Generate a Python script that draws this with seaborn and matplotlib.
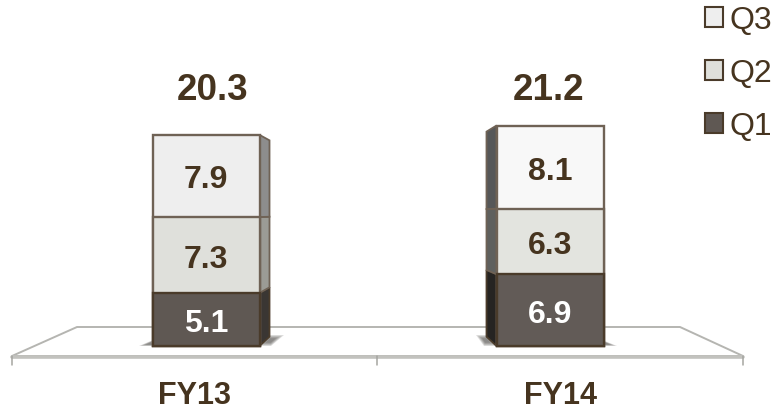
import matplotlib.pyplot as plt
import numpy as np
import pandas as pd
import seaborn as sns
from matplotlib.patches import Patch, Polygon

sns.set_theme(style="white")
plt.rcParams["font.family"] = ["Liberation Sans", "DejaVu Sans"]

years = ["FY13", "FY14"]
q1 = [5.1, 6.9]
q2 = [7.3, 6.3]
q3 = [7.9, 8.1]
totals = [20.3, 21.2]

# pixel layout of the picture
W, H = 774, 410
X0, X_STEP = 206, 344  # first bar centre, bar spacing
Y0, Y_UNIT = 347, 10.4  # baseline, pixels per value unit
BAR_W = 107 / X_STEP
DEPTH = 10 / X_STEP
VANISH = 12.8  # side faces converge to this value
SHRINK = 0.93

TEXT = "#46341f"
EDGE = "#6f6255"
EDGE_DARK = "#4a3b2a"


def px(x):
    return (x - X0) / X_STEP


def py(y):
    return (Y0 - y) / Y_UNIT


fig = plt.figure(figsize=(W / 100, H / 100), dpi=100)
ax = fig.add_axes([0, 0, 1, 1])

# floor
floor = [(12, 357), (77, 328), (680, 328), (743, 357)]
ax.add_patch(Polygon([(px(a), py(b)) for a, b in floor], closed=True, facecolor="white",
                     edgecolor="#b5b5b1", lw=1.4, zorder=0))
ax.plot([px(12), px(743)], [py(357.5), py(357.5)], color="#c2c2be", lw=2.6, zorder=1)
for t in [12, 377, 743]:
    ax.plot([px(t), px(t)], [py(357), py(366)], color="#a5a5a1", lw=1.1, zorder=1)

# shadows on the floor
shadows = [
    [(139, 347), (153, 341), (156, 347)],
    [(269, 336), (284, 336), (271, 347), (258, 347)],
    [(476, 336), (487, 336), (497, 347), (484, 347)],
    [(600, 340), (617, 347), (600, 347)],
]
for s in shadows:
    pts = np.array(s, dtype=float)
    c = pts.mean(axis=0)
    for k in [1.0, 0.85, 0.7, 0.55, 0.4]:
        p = c + (pts - c) * k
        ax.add_patch(Polygon(np.c_[px(p[:, 0]), py(p[:, 1])], closed=True, facecolor="#3c3835",
                             alpha=0.16, lw=0, zorder=1))

# stacked bars, tallest cumulative layer first
df = pd.DataFrame({"year": years, "Q1": q1, "Q2": q2, "Q3": q3, "total": totals})
df["s1"] = df["Q1"]
df["s2"] = df["Q1"] + df["Q2"]
df["s3"] = df["total"]

layers = [
    ("s3", ["#eeeeee", "#f8f8f8"], EDGE),
    ("s2", ["#dfe0db", "#e3e4df"], EDGE),
    ("s1", ["#5f5853", "#625b57"], EDGE_DARK),
]
for col, colors, edge in layers:
    sns.barplot(data=df, x="year", y=col, hue="year", palette=colors, legend=False, width=BAR_W,
                saturation=1, edgecolor=edge, linewidth=1.7, ax=ax, zorder=3)

# side faces
side_colors = [["#3a3633", "#9b9b95", "#8d8d8d"], ["#262422", "#5f605e", "#565758"]]
side_dirs = [1, -1]
for i in range(2):
    edge_x = i + side_dirs[i] * BAR_W / 2
    far_x = edge_x + side_dirs[i] * DEPTH
    levels = [0, df["s1"][i], df["s2"][i], df["s3"][i]]
    for j in range(3):
        lo, hi = levels[j], levels[j + 1]
        far_lo = VANISH + (lo - VANISH) * SHRINK
        far_hi = VANISH + (hi - VANISH) * SHRINK
        ax.add_patch(Polygon([(edge_x, lo), (far_x, far_lo), (far_x, far_hi), (edge_x, hi)],
                             closed=True, facecolor=side_colors[i][j],
                             edgecolor=EDGE_DARK if j == 0 else EDGE, lw=1.3, zorder=2.5))

# value labels
for i in range(2):
    for lo, val, color in [(0, q1[i], "white"), (q1[i], q2[i], TEXT), (df["s2"][i], q3[i], TEXT)]:
        top = min(lo + val, df["s3"][i])
        ax.text(i, (lo + top) / 2, f"{val:.1f}", color=color, fontsize=23, fontweight="bold",
                ha="center", va="center_baseline", zorder=5)

total_x = [213, 549]
for i in range(2):
    ax.text(px(total_x[i]), py(86), f"{totals[i]:.1f}", color=TEXT, fontsize=26.5, fontweight="bold",
            ha="center", va="center_baseline", zorder=5)

year_x = [194, 560]
for i in range(2):
    ax.text(px(year_x[i]), py(393), years[i], color=TEXT, fontsize=22, fontweight="bold",
            ha="center", va="center_baseline", zorder=5)

handles = [
    Patch(facecolor="#eeeeee", edgecolor=EDGE_DARK, lw=1.5, label="Q3"),
    Patch(facecolor="#dfe0db", edgecolor=EDGE_DARK, lw=1.5, label="Q2"),
    Patch(facecolor="#5f5853", edgecolor=EDGE_DARK, lw=1.5, label="Q1"),
]
ax.legend(handles=handles, loc="upper left", bbox_to_anchor=(705 / W, 1 - 6 / H), frameon=False,
          fontsize=23, labelcolor=TEXT, handlelength=0.57, handleheight=0.57, handletextpad=0.2,
          labelspacing=0.72, borderpad=0, borderaxespad=0)

ax.set_xlim(px(0), px(W))
ax.set_ylim(py(H), py(0))
ax.axis("off")

fig.savefig("out.png", dpi=100)
